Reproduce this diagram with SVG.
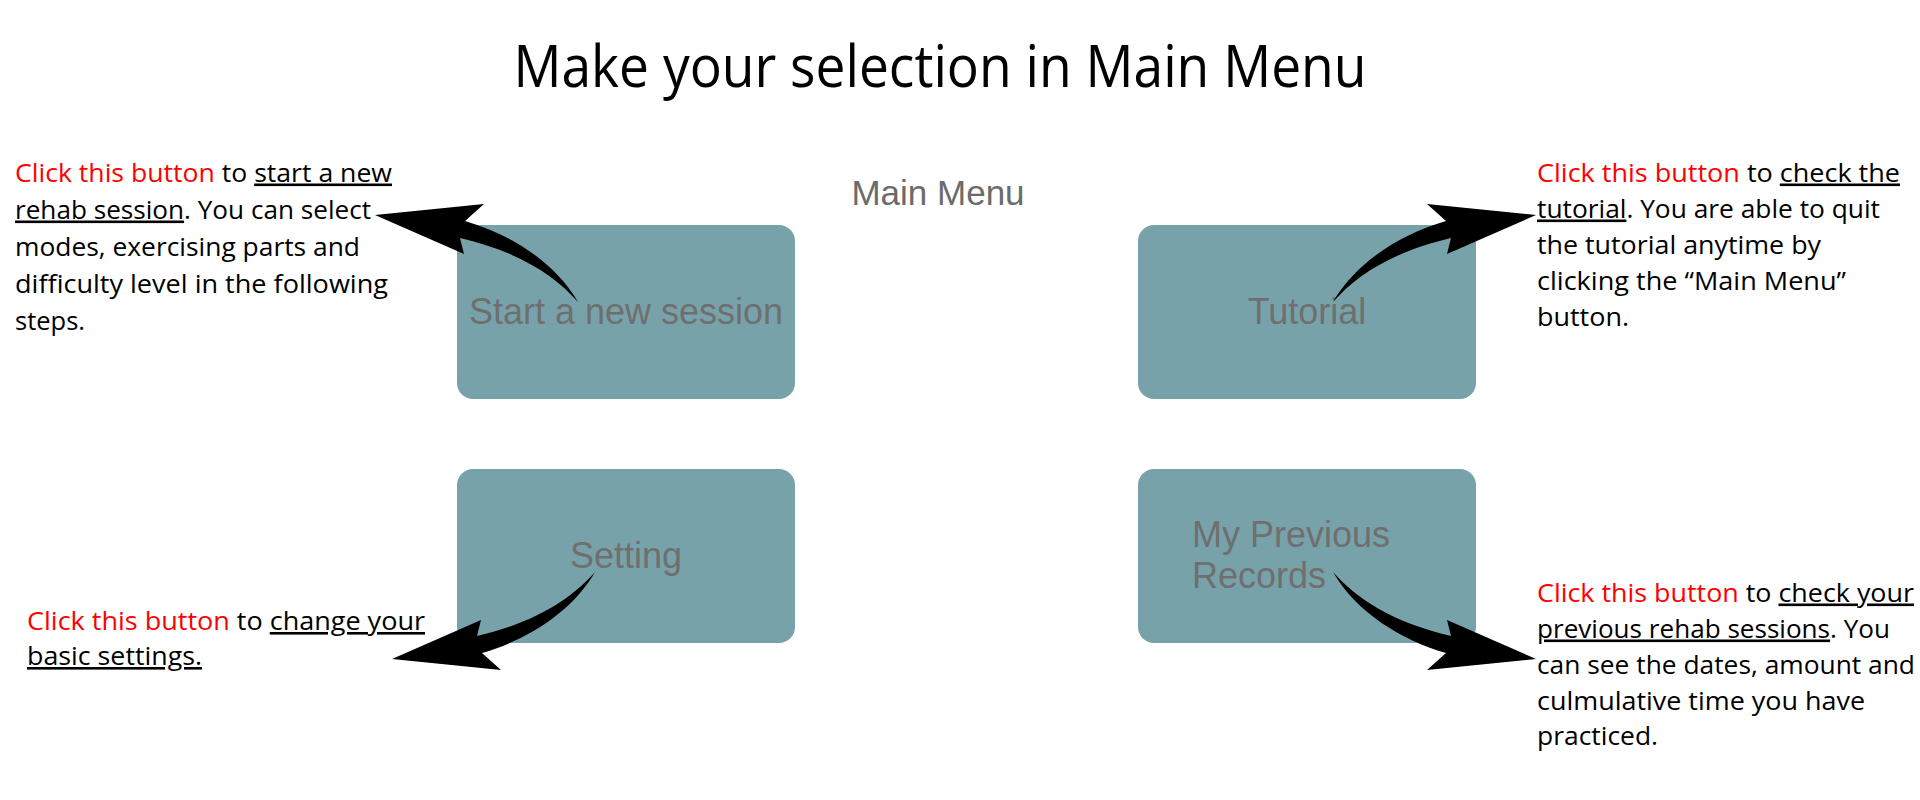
<svg xmlns="http://www.w3.org/2000/svg" xmlns:xlink="http://www.w3.org/1999/xlink" width="1920" height="800" viewBox="0 0 1920 800">
  <style>
    .title { font-family: "Open Sans", "Liberation Sans", sans-serif; font-size: 58px; fill: #000; }
    .menu { font-family: "Liberation Sans", Arial, sans-serif; font-size: 35px; fill: #6b6b6b; }
    .btn { fill: #78a2a9; }
    .btxt { font-family: "Liberation Sans", Arial, sans-serif; font-size: 36px; fill: #6f6f6f; }
    .desc { font-family: "Open Sans", "Liberation Sans", sans-serif; font-size: 26px; fill: #000; }
    .red { fill: #ff0000; }
    .u { text-decoration: underline; }
    .arrow { fill: #000; }
  </style>
  <defs>
    <path id="curvedArrow" d="M375,215 L484,204 L465,221 C510,234 555,262 578,302 C555,276 520,252 460,238 L464,254 Z"/>
  </defs>
  <rect width="1920" height="800" fill="#ffffff"/>

  <text class="title" x="940" y="87" text-anchor="middle" textLength="853" lengthAdjust="spacingAndGlyphs">Make your selection in Main Menu</text>
  <text class="menu" x="938" y="205" text-anchor="middle">Main Menu</text>

  <g id="node-start">
    <rect class="btn" x="457" y="225" width="338" height="174" rx="16"/>
    <text class="btxt" x="626" y="324" text-anchor="middle">Start a new session</text>
  </g>
  <g id="node-tutorial">
    <rect class="btn" x="1138" y="225" width="338" height="174" rx="16"/>
    <text class="btxt" x="1307" y="324" text-anchor="middle">Tutorial</text>
  </g>
  <g id="node-setting">
    <rect class="btn" x="457" y="469" width="338" height="174" rx="16"/>
    <text class="btxt" x="626" y="568" text-anchor="middle">Setting</text>
  </g>
  <g id="node-records">
    <rect class="btn" x="1138" y="469" width="338" height="174" rx="16"/>
    <text class="btxt" x="1192" y="547">My Previous</text>
    <text class="btxt" x="1192" y="588">Records</text>
  </g>

  <g id="note-start" class="desc">
    <text x="15" y="181.5" textLength="377" lengthAdjust="spacingAndGlyphs"><tspan class="red">Click this button</tspan> to <tspan class="u">start a new</tspan></text>
    <text x="15" y="218.5" textLength="356" lengthAdjust="spacingAndGlyphs"><tspan class="u">rehab session</tspan>. You can select</text>
    <text x="15" y="255.5" textLength="345" lengthAdjust="spacingAndGlyphs">modes, exercising parts and</text>
    <text x="15" y="292.5" textLength="373" lengthAdjust="spacingAndGlyphs">difficulty level in the following</text>
    <text x="15" y="329.5" textLength="70" lengthAdjust="spacingAndGlyphs">steps.</text>
  </g>

  <g id="note-tutorial" class="desc">
    <text x="1537" y="181.5" textLength="363" lengthAdjust="spacingAndGlyphs"><tspan class="red">Click this button</tspan> to <tspan class="u">check the</tspan></text>
    <text x="1537" y="217.5" textLength="343" lengthAdjust="spacingAndGlyphs"><tspan class="u">tutorial</tspan>. You are able to quit</text>
    <text x="1537" y="253.5" textLength="284" lengthAdjust="spacingAndGlyphs">the tutorial anytime by</text>
    <text x="1537" y="289.5" textLength="309" lengthAdjust="spacingAndGlyphs">clicking the “Main Menu”</text>
    <text x="1537" y="325.5" textLength="92" lengthAdjust="spacingAndGlyphs">button.</text>
  </g>

  <g id="note-setting" class="desc">
    <text x="27" y="630" textLength="398" lengthAdjust="spacingAndGlyphs"><tspan class="red">Click this button</tspan> to <tspan class="u">change your</tspan></text>
    <text x="27" y="665" textLength="175" lengthAdjust="spacingAndGlyphs"><tspan class="u">basic settings.</tspan></text>
  </g>

  <g id="note-records" class="desc">
    <text x="1537" y="601.5" textLength="377" lengthAdjust="spacingAndGlyphs"><tspan class="red">Click this button</tspan> to <tspan class="u">check your</tspan></text>
    <text x="1537" y="637.5" textLength="353" lengthAdjust="spacingAndGlyphs"><tspan class="u">previous rehab sessions</tspan>. You</text>
    <text x="1537" y="673.5" textLength="378" lengthAdjust="spacingAndGlyphs">can see the dates, amount and</text>
    <text x="1537" y="709.5" textLength="328" lengthAdjust="spacingAndGlyphs">culmulative time you have</text>
    <text x="1537" y="745" textLength="121" lengthAdjust="spacingAndGlyphs">practiced.</text>
  </g>

  <g id="connectors" class="arrow">
    <use xlink:href="#curvedArrow" href="#curvedArrow"/>
    <use xlink:href="#curvedArrow" href="#curvedArrow" transform="translate(1911,0) scale(-1,1)"/>
    <use xlink:href="#curvedArrow" href="#curvedArrow" transform="translate(17,874) scale(1,-1)"/>
    <use xlink:href="#curvedArrow" href="#curvedArrow" transform="translate(1911,874) scale(-1,-1)"/>
  </g>
</svg>
